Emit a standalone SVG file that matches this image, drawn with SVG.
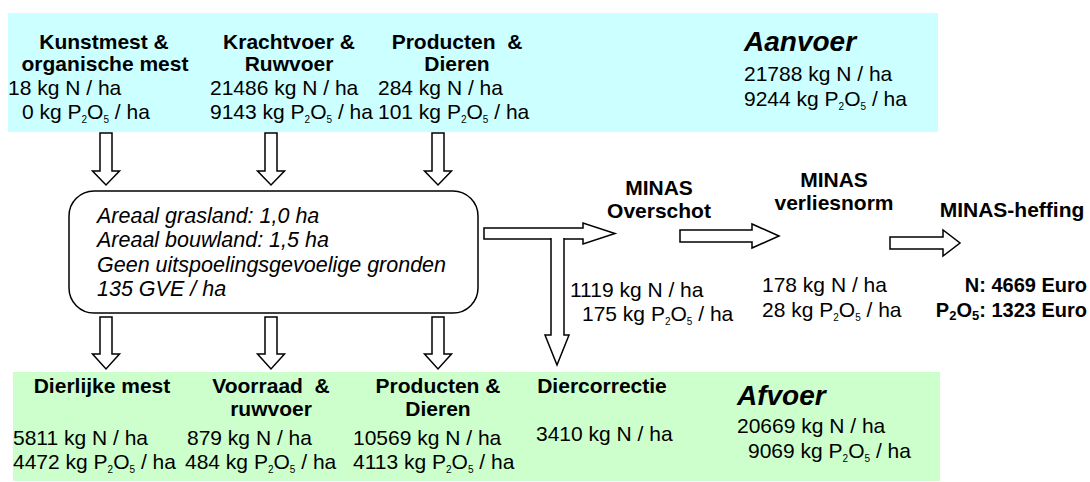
<svg xmlns="http://www.w3.org/2000/svg" width="1090" height="482" viewBox="0 0 1090 482">
  <style>
    text { font-family: "Liberation Sans", Arial, sans-serif; font-size: 21px; fill: #000; white-space: pre; }
    .b { font-weight: bold; }
    .i { font-style: italic; font-size: 21.5px; }
    .bi { font-weight: bold; font-style: italic; font-size: 28px; }
    .c { text-anchor: middle; }
    .r { text-anchor: end; }
    .e { font-size: 20px; }
    .s { font-size: 10px; }
    .sb { font-size: 13px; }
    .arrow { fill: #fff; stroke: #000; stroke-width: 1.5; stroke-linejoin: miter; }
  </style>

  <!-- Supply panel -->
  <g id="aanvoer">
    <rect x="8" y="13" width="930" height="119" fill="#ccffff"/>
    <text class="b c" x="104" y="49">Kunstmest &amp;</text>
    <text class="b c" x="105" y="71">organische mest</text>
    <text x="8" y="95">18 kg N / ha</text>
    <text x="22" y="119">0 kg P<tspan class="s" dy="4">2</tspan><tspan dy="-4">O</tspan><tspan class="s" dy="4">5</tspan><tspan dy="-4"> / ha</tspan></text>

    <text class="b c" x="289" y="49">Krachtvoer &amp;</text>
    <text class="b c" x="289" y="71">Ruwvoer</text>
    <text x="210" y="95">21486 kg N / ha</text>
    <text x="210" y="119">9143 kg P<tspan class="s" dy="4">2</tspan><tspan dy="-4">O</tspan><tspan class="s" dy="4">5</tspan><tspan dy="-4"> / ha</tspan></text>

    <text class="b c" x="457" y="49">Producten  &amp;</text>
    <text class="b c" x="457" y="71">Dieren</text>
    <text x="378" y="95">284 kg N / ha</text>
    <text x="378" y="119">101 kg P<tspan class="s" dy="4">2</tspan><tspan dy="-4">O</tspan><tspan class="s" dy="4">5</tspan><tspan dy="-4"> / ha</tspan></text>

    <text class="bi" x="744" y="51">Aanvoer</text>
    <text x="744" y="81">21788 kg N / ha</text>
    <text x="744" y="106">9244 kg P<tspan class="s" dy="4">2</tspan><tspan dy="-4">O</tspan><tspan class="s" dy="4">5</tspan><tspan dy="-4"> / ha</tspan></text>
  </g>

  <!-- Farm description -->
  <g id="bedrijf">
    <rect x="69" y="191" width="409" height="122" rx="25" ry="25" fill="#fff" stroke="#000" stroke-width="1.5"/>
    <text class="i" x="97" y="223">Areaal grasland: 1,0 ha</text>
    <text class="i" x="97" y="247">Areaal bouwland: 1,5 ha</text>
    <text class="i" x="97" y="272">Geen uitspoelingsgevoelige gronden</text>
    <text class="i" x="97" y="296">135 GVE / ha</text>
  </g>

  <!-- Discharge panel -->
  <g id="afvoer">
    <rect x="13" y="372" width="927" height="109" fill="#ccffcc"/>
    <text class="b c" x="102" y="393">Dierlijke mest</text>
    <text x="13" y="445">5811 kg N / ha</text>
    <text x="13" y="469">4472 kg P<tspan class="s" dy="4">2</tspan><tspan dy="-4">O</tspan><tspan class="s" dy="4">5</tspan><tspan dy="-4"> / ha</tspan></text>

    <text class="b c" x="271" y="393">Voorraad  &amp;</text>
    <text class="b c" x="271" y="416">ruwvoer</text>
    <text x="187" y="445">879 kg N / ha</text>
    <text x="185" y="469">484 kg P<tspan class="s" dy="4">2</tspan><tspan dy="-4">O</tspan><tspan class="s" dy="4">5</tspan><tspan dy="-4"> / ha</tspan></text>

    <text class="b c" x="438" y="393">Producten &amp;</text>
    <text class="b c" x="438" y="416">Dieren</text>
    <text x="353" y="445">10569 kg N / ha</text>
    <text x="353" y="469">4113 kg P<tspan class="s" dy="4">2</tspan><tspan dy="-4">O</tspan><tspan class="s" dy="4">5</tspan><tspan dy="-4"> / ha</tspan></text>

    <text class="b c" x="602" y="393">Diercorrectie</text>
    <text x="536" y="441">3410 kg N / ha</text>

    <text class="bi" x="737" y="405">Afvoer</text>
    <text x="737" y="433">20669 kg N / ha</text>
    <text x="748" y="458">9069 kg P<tspan class="s" dy="4">2</tspan><tspan dy="-4">O</tspan><tspan class="s" dy="4">5</tspan><tspan dy="-4"> / ha</tspan></text>
  </g>

  <!-- MINAS surplus -->
  <g id="overschot">
    <text class="b c" x="659" y="195">MINAS</text>
    <text class="b c" x="659" y="218">Overschot</text>
    <text x="570" y="297">1119 kg N / ha</text>
    <text x="582" y="321">175 kg P<tspan class="s" dy="4">2</tspan><tspan dy="-4">O</tspan><tspan class="s" dy="4">5</tspan><tspan dy="-4"> / ha</tspan></text>
  </g>

  <!-- MINAS loss standard -->
  <g id="verliesnorm">
    <text class="b c" x="834" y="187">MINAS</text>
    <text class="b c" x="834" y="210">verliesnorm</text>
    <text x="762" y="292">178 kg N / ha</text>
    <text x="762" y="317">28 kg P<tspan class="s" dy="4">2</tspan><tspan dy="-4">O</tspan><tspan class="s" dy="4">5</tspan><tspan dy="-4"> / ha</tspan></text>
  </g>

  <!-- MINAS levy -->
  <g id="heffing">
    <text class="b c" x="1012" y="217">MINAS-heffing</text>
    <text class="b r e" x="1087" y="292">N: 4669 Euro</text>
    <text class="b r e" x="1087" y="317">P<tspan class="sb" dy="3">2</tspan><tspan dy="-3">O</tspan><tspan class="sb" dy="3">5</tspan><tspan dy="-3">: 1323 Euro</tspan></text>
  </g>

  <!-- Block arrows -->
  <g id="connectors">
    <!-- supply into the farm -->
    <polygon class="arrow" points="100,133 112,133 112,171 119.5,171 106,185 92.5,171 100,171"/>
    <polygon class="arrow" points="265,133 277,133 277,171 284.5,171 271,185 257.5,171 265,171"/>
    <polygon class="arrow" points="432,133 444,133 444,171 451.5,171 438,185 424.5,171 432,171"/>
    <!-- farm to discharge -->
    <polygon class="arrow" points="100,317 112,317 112,354 119.5,354 106,369 92.5,354 100,354"/>
    <polygon class="arrow" points="265,317 277,317 277,354 284.5,354 271,369 257.5,354 265,354"/>
    <polygon class="arrow" points="432,317 444,317 444,354 451.5,354 438,369 424.5,354 432,354"/>
    <!-- farm to surplus, with branch down to animal correction -->
    <polygon class="arrow" points="484,228 583,228 583,223 615,233.5 583,244 583,239 484,239"/>
    <path class="arrow" d="M551,238 V335 H545 L557,365 L569,335 H564 V238"/>
    <!-- surplus to loss standard -->
    <polygon class="arrow" points="680,230 752,230 752,224 779,236 752,248 752,242 680,242"/>
    <!-- loss standard to levy -->
    <polygon class="arrow" points="890,237 943,237 943,230 960,243 943,256 943,249 890,249"/>
  </g>
</svg>
